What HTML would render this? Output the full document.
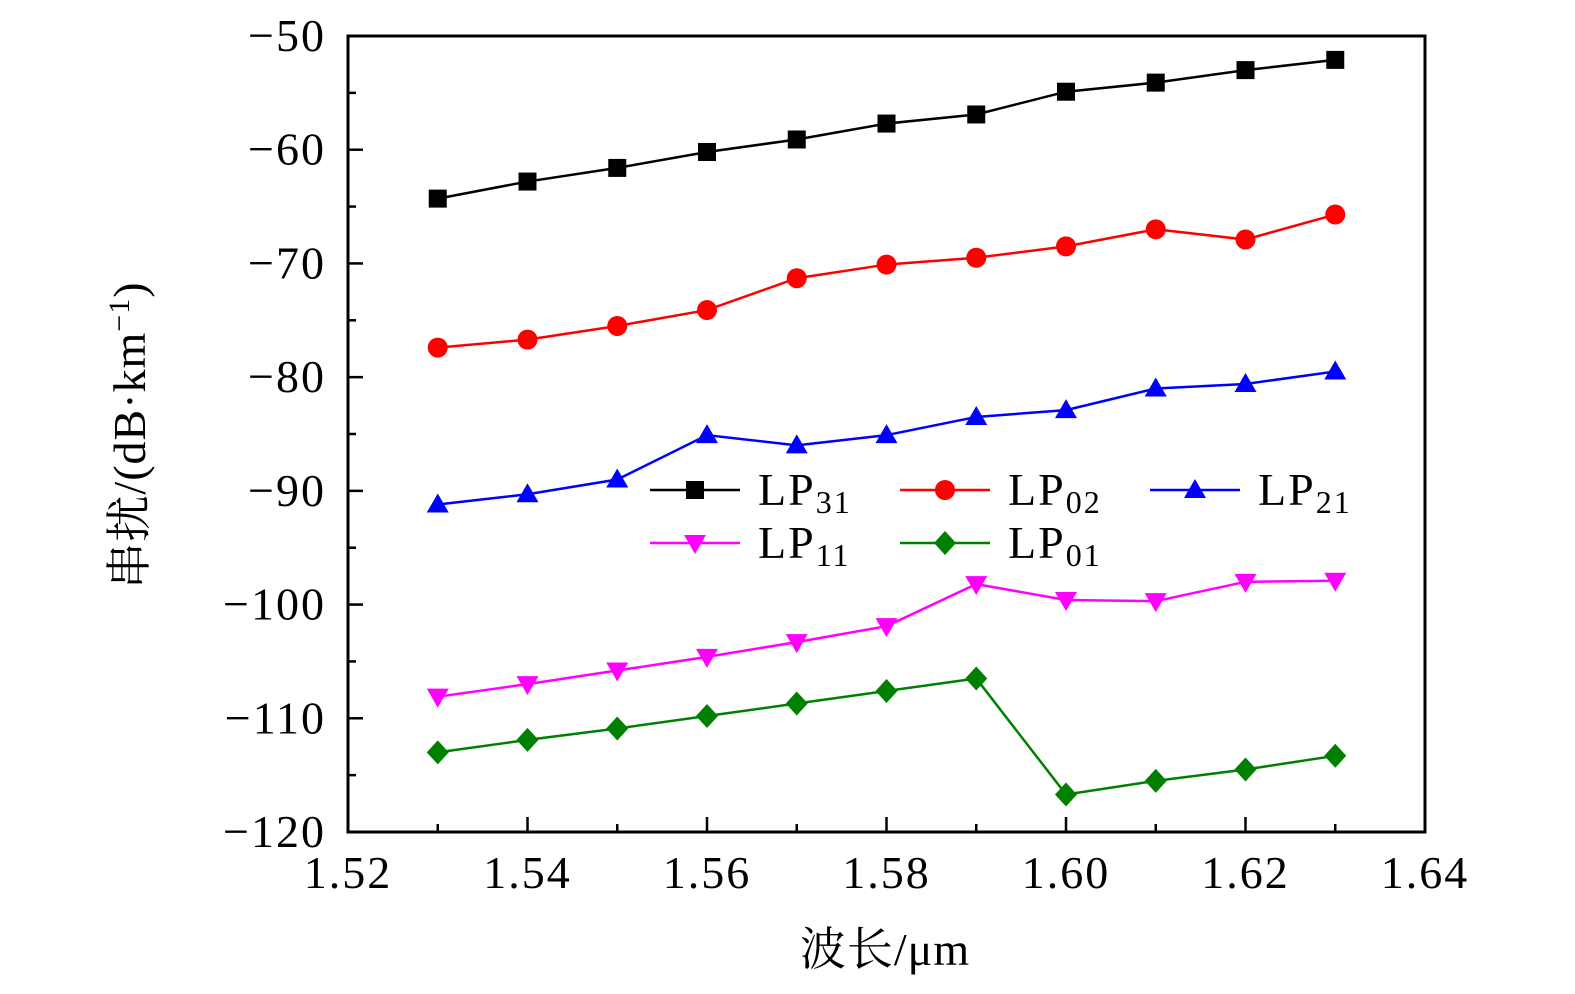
<!DOCTYPE html>
<html><head><meta charset="utf-8"><style>
body{margin:0;background:#fff}
svg{display:block}
text{font-family:"Liberation Serif","Noto Serif CJK SC",serif;fill:#000}
</style></head><body>
<svg id="chart" width="1575" height="994">
<g id="axes"></g>
<g id="series"></g>
<g id="legend"></g>
<text x="145" y="435" font-size="46" text-anchor="middle" letter-spacing="1" transform="rotate(-90 145 435)">串扰/(dB·km<tspan dy="-16" font-size="30">−1</tspan><tspan dy="16">)</tspan></text>
<text x="885" y="965" font-size="46" text-anchor="middle" letter-spacing="1">波长/μm</text>
</svg>
<script>
const xs=[1.53,1.54,1.55,1.56,1.57,1.58,1.59,1.60,1.61,1.62,1.63];
const lp31=[-64.3,-62.8,-61.6,-60.2,-59.1,-57.7,-56.9,-54.9,-54.1,-53.0,-52.1];
const lp02=[-77.4,-76.7,-75.5,-74.1,-71.3,-70.1,-69.5,-68.5,-67.0,-67.9,-65.7];
const lp21=[-91.2,-90.3,-89.0,-85.1,-86.0,-85.1,-83.5,-82.9,-81.0,-80.6,-79.5];
const lp11=[-108.1,-107.0,-105.8,-104.6,-103.3,-101.9,-98.2,-99.6,-99.7,-98.0,-97.9];
const lp01=[-113.0,-111.9,-110.9,-109.8,-108.7,-107.6,-106.5,-116.7,-115.5,-114.5,-113.3];
const xTicks=[1.52,1.54,1.56,1.58,1.60,1.62,1.64];
const yTicks=[-50,-60,-70,-80,-90,-100,-110,-120];
const L=348,R=1425,T=36,B=832;
const X=v=>L+(v-1.52)/0.12*(R-L);
const Y=v=>T+(-50-v)/70*(B-T);
const NS='http://www.w3.org/2000/svg';
function mk(tag,attrs,parent){const e=document.createElementNS(NS,tag);for(const k in attrs)e.setAttribute(k,attrs[k]);parent.appendChild(e);return e;}
const ax=document.getElementById('axes');
const frame=mk('rect',{x:L,y:T,width:R-L,height:B-T,fill:'none',stroke:'#000','stroke-width':3},ax);


for(let v=-50;v>=-120;v-=5){const maj=v%10===0;const y=Y(v);
 mk('line',{x1:L,x2:L+(maj?15:8),y1:y,y2:y,stroke:'#000','stroke-width':2.5},ax);}
for(let i=0;i<=12;i++){const v=1.52+i*0.01;const maj=i%2===0;const x=X(v);
 mk('line',{x1:x,x2:x,y1:B,y2:B-(maj?15:8),stroke:'#000','stroke-width':2.5},ax);}
yTicks.forEach(v=>{const t=mk('text',{x:L-22,y:Y(v)+15,'font-size':46,'text-anchor':'end','letter-spacing':2},ax);t.textContent='−'+Math.abs(v);
 
 });
xTicks.forEach(v=>{const t=mk('text',{x:X(v),y:888,'font-size':46,'text-anchor':'middle','letter-spacing':2},ax);t.textContent=v.toFixed(2);
 
 });
function marker(type,cx,cy,color,p){
 if(type==='sq')return mk('rect',{x:cx-9,y:cy-9,width:18,height:18,fill:color},p);
 if(type==='ci')return mk('circle',{cx:cx,cy:cy,r:10,fill:color},p);
 if(type==='up')return mk('polygon',{points:`${cx},${cy-11} ${cx-11},${cy+8} ${cx+11},${cy+8}`,fill:color},p);
 if(type==='dn')return mk('polygon',{points:`${cx},${cy+11} ${cx-11},${cy-8} ${cx+11},${cy-8}`,fill:color},p);
 return mk('polygon',{points:`${cx},${cy-12} ${cx+11},${cy} ${cx},${cy+12} ${cx-11},${cy}`,fill:color},p);
}
const defs=[['LP31',lp31,'#000','sq','31'],['LP02',lp02,'#f00','ci','02'],['LP21',lp21,'#00f','up','21'],['LP11',lp11,'#f0f','dn','11'],['LP01',lp01,'#008000','di','01']];
const sg=document.getElementById('series');
defs.forEach(d=>{const g=mk('g',{},sg);
 
 
 mk('polyline',{points:d[1].map((v,i)=>X(xs[i])+','+Y(v)).join(' '),fill:'none',stroke:d[2],'stroke-width':2.5},g);
 d[1].forEach((v,i)=>{const m=marker(d[3],X(xs[i]),Y(v),d[2],g);
  
  });
});
const lg=document.getElementById('legend');
const pos=[[650,490],[900,490],[1150,490],[650,543],[900,543]];
defs.forEach((d,i)=>{const [x,y]=pos[i];const g=mk('g',{},lg);
 
 
 mk('line',{x1:x,x2:x+90,y1:y,y2:y,stroke:d[2],'stroke-width':2.5},g);
 marker(d[3],x+45,y,d[2],g);
 const t=mk('text',{x:x+108,y:y+15,'font-size':46,'letter-spacing':2},g);
 t.innerHTML='LP<tspan dy="8" font-size="32">'+d[4]+'</tspan>';
});
</script>
</body></html>
